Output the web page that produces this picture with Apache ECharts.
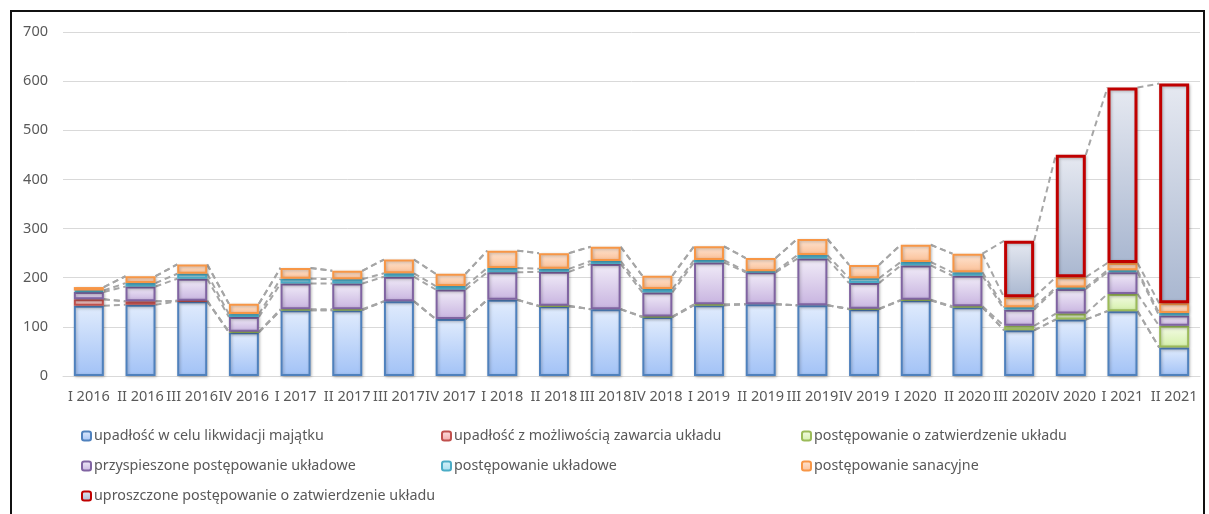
<!DOCTYPE html>
<html>
<head>
<meta charset="utf-8">
<script src="https://cdn.jsdelivr.net/npm/echarts@6/dist/echarts.min.js"></script>
<style>
  html, body { margin: 0; padding: 0; background: #fff; }
  #frame { position: absolute; left: 10px; top: 10px; width: 1195px; height: 520px; border: 2px solid #111; box-sizing: border-box; }
  #chart { position: absolute; left: 0; top: 0; width: 1209px; height: 514px; }
</style>
</head>
<body>
<div id="frame"></div>
<div id="chart"></div>
<script>
// Quarters
const categories = ['I 2016','II 2016','III 2016','IV 2016','I 2017','II 2017','III 2017','IV 2017',
  'I 2018','II 2018','III 2018','IV 2018','I 2019','II 2019','III 2019','IV 2019',
  'I 2020','II 2020','III 2020','IV 2020','I 2021','II 2021'];

// Number of proceedings per type, per quarter
const likwidacja    = [143,145,152,89,134,134,152,116,155,142,136,120,144,146,144,136,154,140,93,115,132,58];
const mozliwosc     = [13,7,1,0,0,0,0,0,0,0,0,0,0,0,0,0,0,0,0,0,0,0];
const zatwierdzenie = [0,0,0,1,2,2,0,0,0,1,0,1,2,0,0,1,1,2,9,12,35,44];
const przyspieszone = [15,30,45,30,52,52,50,60,56,69,92,49,85,65,95,52,70,62,33,50,44,21];
const ukladowe      = [3,7,10,6,10,9,7,7,9,6,6,7,5,2,7,10,7,7,5,3,4,5];
const sanacyjne     = [7,14,19,21,22,17,28,25,35,32,29,27,28,27,33,27,35,38,20,21,15,20];
const uproszczone   = [0,0,0,0,0,0,0,0,0,0,0,0,0,0,0,0,0,0,115,249,357,447];

// Axis ticks
const yTicks = { min: 0, max: 700, interval: 100 };

const BAR_W = 30;

function grad(top, bottom) {
  return new echarts.graphic.LinearGradient(0, 0, 0, 1, [
    { offset: 0, color: top }, { offset: 1, color: bottom }
  ]);
}

const seriesDefs = [
  { name: 'upadłość w celu likwidacji majątku', data: likwidacja, fill: grad('#e1ecfd', '#a2c2f6'), border: '#4f81bd', bw: 2 },
  { name: 'upadłość z możliwością zawarcia układu', data: mozliwosc, fill: grad('#fde3e3', '#f2a6a5'), border: '#c0504d', bw: 2 },
  { name: 'postępowanie o zatwierdzenie układu', data: zatwierdzenie, fill: grad('#f4fbe6', '#d4f0a9'), border: '#9bbb59', bw: 2 },
  { name: 'przyspieszone postępowanie układowe', data: przyspieszone, fill: grad('#f1ecf8', '#c8b4e0'), border: '#8064a2', bw: 2 },
  { name: 'postępowanie układowe', data: ukladowe, fill: grad('#d9f3f9', '#a4def0'), border: '#4bacc6', bw: 2 },
  { name: 'postępowanie sanacyjne', data: sanacyjne, fill: grad('#fee6d5', '#fbbf95'), border: '#f79646', bw: 2 },
  { name: 'uproszczone postępowanie o zatwierdzenie układu', data: uproszczone, fill: grad('#e6e9f1', '#a9b7d0'), border: '#c00000', bw: 3 }
];

// Cumulative top of each stacked segment, used for the series lines
const stackTops = [];
let running = categories.map(() => 0);
seriesDefs.forEach(s => {
  running = running.map((v, i) => v + s.data[i]);
  stackTops.push(running.slice());
});

const barSeries = seriesDefs.map(s => ({
  name: s.name,
  type: 'bar',
  stack: 'total',
  barWidth: BAR_W,
  z: 3,
  data: s.data.map(v => (v === 0 ? null : v)),
  itemStyle: {
    color: s.fill,
    borderColor: s.border,
    borderWidth: s.bw,
    shadowBlur: 3,
    shadowColor: 'rgba(0,0,0,0.25)',
    shadowOffsetX: 1,
    shadowOffsetY: 1
  },
  emphasis: { disabled: true }
}));

// Dashed series lines joining the segment tops of neighbouring bars
const seriesLines = {
  name: 'linie',
  type: 'custom',
  z: 2,
  silent: true,
  encode: { x: 0, y: 1 },
  data: categories.slice(0, -1).map((c, i) => [i, 0]),
  renderItem(params, api) {
    const i = params.dataIndex;
    const half = BAR_W / 2;
    return {
      type: 'group',
      children: stackTops.map(tops => {
        const p1 = api.coord([i, tops[i]]);
        const p2 = api.coord([i + 1, tops[i + 1]]);
        return {
          type: 'line',
          shape: { x1: p1[0] + half, y1: p1[1], x2: p2[0] - half, y2: p2[1] },
          style: { stroke: '#a6a6a6', lineWidth: 2, lineDash: [6, 4] }
        };
      })
    };
  }
};

const FONT = 'Noto Sans';
const legendBase = {
  orient: 'vertical',
  itemWidth: 9,
  itemHeight: 9,
  itemGap: 16,
  selectedMode: false,
  textStyle: { color: '#595959', fontSize: 14.3, fontFamily: FONT, padding: [0, 0, 0, -2] }
};

const chart = echarts.init(document.getElementById('chart'), null, { renderer: 'canvas' });
chart.setOption({
  animation: false,
  grid: { left: 63, right: 9, top: 32, bottom: 138, containLabel: false },
  legend: [
    Object.assign({}, legendBase, { left: 76, top: 424, data: [seriesDefs[0].name, seriesDefs[3].name, seriesDefs[6].name] }),
    Object.assign({}, legendBase, { left: 436, top: 424, data: [seriesDefs[1].name, seriesDefs[4].name] }),
    Object.assign({}, legendBase, { left: 796, top: 424, data: [seriesDefs[2].name, seriesDefs[5].name] })
  ],
  xAxis: {
    type: 'category',
    data: categories,
    axisTick: { show: false },
    axisLine: { lineStyle: { color: '#d9d9d9', width: 1 } },
    axisLabel: { color: '#595959', fontSize: 14.5, fontFamily: FONT, margin: 13, interval: 0 }
  },
  yAxis: {
    type: 'value',
    min: yTicks.min,
    max: yTicks.max,
    interval: yTicks.interval,
    axisLine: { show: false },
    axisTick: { show: false },
    splitLine: { lineStyle: { color: '#d9d9d9', width: 1 } },
    axisLabel: { color: '#595959', fontSize: 14.5, fontFamily: FONT, margin: 15 }
  },
  series: barSeries.concat([seriesLines])
});
</script>
</body>
</html>
